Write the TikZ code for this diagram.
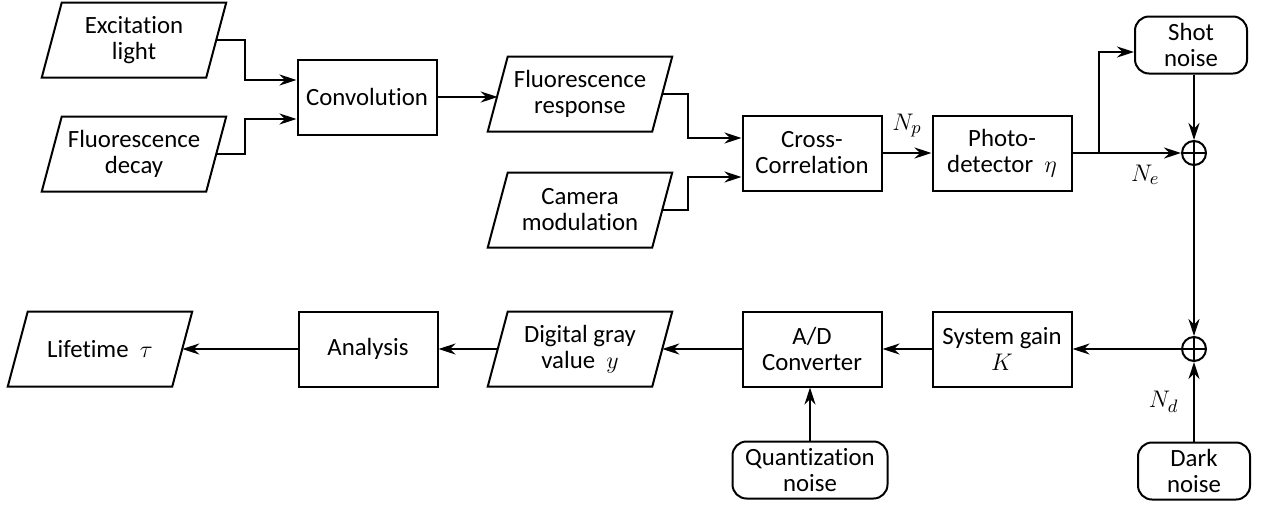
\documentclass[tikz,border=0pt]{standalone}
\usepackage{fontspec}
\setmainfont{Carlito}[Ligatures=NoCommon]
\usetikzlibrary{arrows.meta,positioning,calc}

\begin{document}
\begin{tikzpicture}[x=0.5pt, y=-0.5pt,
  font=\fontsize{12.4}{13}\selectfont, line width=1pt,
  >={Stealth[length=8.5pt,width=5.5pt]},
  blk/.style={draw, minimum width=69.5pt, minimum height=37.5pt, align=center, inner sep=2pt},
  io/.style={minimum width=81.25pt, minimum height=36.5pt, align=center, inner sep=1pt},
  noise/.style={draw, rounded corners=7pt, minimum width=56pt, minimum height=28.5pt,
    align=center, inner sep=1pt},
  sumnode/.style={draw, circle, minimum size=12pt, inner sep=0pt,
    path picture={\draw (path picture bounding box.north) -- (path picture bounding box.south)
      (path picture bounding box.west) -- (path picture bounding box.east);}}]
\useasboundingbox (0,0) rectangle (1261,504);

\node[io] (exc) at (134,40) {Excitation\\light};
\node[io] (dec) at (134,154) {Fluorescence\\decay};
\node[blk] (conv) at (367,97) {Convolution};
\node[io] (resp) at (580,94) {Fluorescence\\response};
\node[io] (cam) at (580,210) {Camera\\modulation};
\node[blk] (xcor) at (812,153) {Cross-\\Correlation};
\node[blk] (det) at (1002,153) {Photo-\\detector \ $\eta$};
\node[noise] (shot) at (1191,45) {Shot\\noise};
\node[sumnode] (sumA) at (1194,153) {};
\node[sumnode] (sumB) at (1194,349) {};
\node[noise] (dark) at (1194,471) {Dark\\noise};
\node[blk] (gain) at (1002,349) {System gain\\$K$};
\node[blk] (adc) at (812,349) {A/D\\Converter};
\node[noise, minimum width=77.5pt] (quant) at (810,470) {Quantization\\noise};
\node[io] (gray) at (580,349) {Digital gray\\value \ $y$};
\node[blk] (ana) at (368,349) {Analysis};
\node[io] (life) at (100,349) {Lifetime \ $\tau$};
\coordinate (br) at ($(det.east)+(26,0)$);

\foreach \n in {exc,dec,resp,cam,gray,life}
  \draw ($(\n.south west)+(-10,0)$) -- ($(\n.north west)+(10,0)$)
    -- ($(\n.north east)+(10,0)$) -- ($(\n.south east)+(-10,0)$) -- cycle;

\draw[->] (exc.east) -- ++(29,0) |- ($(conv.west)+(0,-17)$);
\draw[->] (dec.east) -- ++(29,0) |- ($(conv.west)+(0,22)$);
\draw[->] (conv.east) -- (conv.east -| resp.west);
\draw[->] (resp.east) -- ++(26,0) |- ($(xcor.west)+(0,-15)$);
\draw[->] (cam.east) -- ++(26,0) |- ($(xcor.west)+(0,24)$);
\draw[->] (xcor.east) -- node[above=4pt] {$N_p$} (det.west);
\draw[->] (det.east) -- node[below=2pt, pos=0.67] {$N_e$} (sumA.west);
\draw[->] (br) |- ($(shot.west)+(0,7)$);
\draw[->] (shot.south -| sumA.north) -- (sumA.north);
\draw[->] (sumA.south) -- (sumB.north);
\draw[->] (dark.north) -- node[left=4pt] {$N_d$} (sumB.south);
\draw[->] (sumB.west) -- (gain.east);
\draw[->] (gain.west) -- (adc.east);
\draw[->] (quant.north) -- (quant.north |- adc.south);
\draw[->] (adc.west) -- (adc.west -| gray.east);
\draw[->] (gray.west) -- (gray.west -| ana.east);
\draw[->] (ana.west) -- (ana.west -| life.east);
\end{tikzpicture}
\end{document}
